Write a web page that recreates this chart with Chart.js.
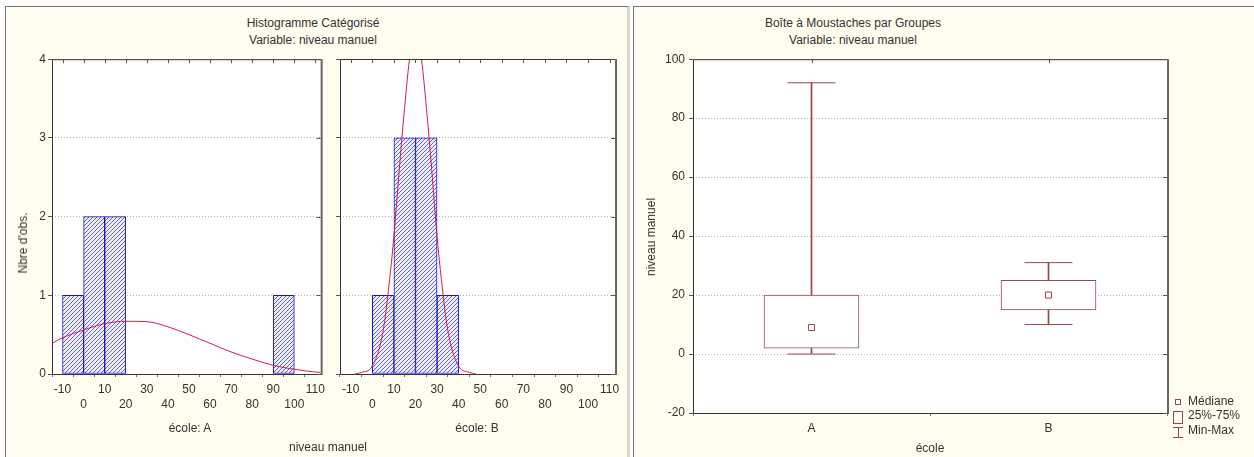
<!DOCTYPE html>
<html>
<head>
<meta charset="utf-8">
<script src="https://cdn.jsdelivr.net/npm/chart.js@4"></script>
<style>
  body { margin: 0; background: #fff; width: 1254px; height: 457px; overflow: hidden; position: relative;
         font-family: Arial, "Liberation Sans", sans-serif; font-size: 12px; color: #333; }
  .panel { position: absolute; background: #fffcf0; border-left: 1px solid #777; border-top: 1px solid #777; }
  #leftPanel { left: 5px; top: 6px; width: 621px; height: 460px; border-right: 3px solid #d8d8d0; }
  #rightPanel { left: 633px; top: 6px; width: 640px; height: 460px; }
  canvas { position: absolute; }
  .txt { position: absolute; white-space: nowrap; transform: translate(-50%, -50%); line-height: 14px; }
  .rot { transform: translate(-50%, -50%) rotate(-90deg); }
</style>
</head>
<body>
<div class="panel" id="leftPanel"></div>
<div class="panel" id="rightPanel"></div>

<canvas id="histA" width="330" height="407" style="left:0;top:50px"></canvas>
<canvas id="histB" width="300" height="407" style="left:330px;top:50px"></canvas>
<canvas id="boxChart" width="622" height="409" style="left:632px;top:48px"></canvas>

<div class="txt" style="left:313px;top:23px">Histogramme Catégorisé</div>
<div class="txt" style="left:313px;top:40px">Variable: niveau manuel</div>
<div class="txt rot" style="left:23px;top:243px">Nbre d'obs.</div>
<div class="txt" style="left:190px;top:428px">école: A</div>
<div class="txt" style="left:477px;top:428px">école: B</div>
<div class="txt" style="left:328px;top:447px">niveau manuel</div>

<div class="txt" style="left:853px;top:23px">Boîte à Moustaches par Groupes</div>
<div class="txt" style="left:853px;top:40px">Variable: niveau manuel</div>
<div class="txt rot" style="left:651px;top:237px">niveau manuel</div>
<div class="txt" style="left:930px;top:448px">école</div>

<script>
// histogram bins (centres) and counts
const binCentersA = [-5, 5, 15, 95];
const countsA = [1, 2, 2, 1];
const binCentersB = [5, 15, 25, 35];
const countsB = [1, 3, 3, 1];

// fitted normal curves
const curveXA = [-15, -10, 0, 10, 20, 30, 40, 50, 60, 70, 80, 90, 100, 110, 112.5];
const curveYA = [0.39, 0.46, 0.56, 0.64, 0.67, 0.665, 0.60, 0.50, 0.39, 0.28, 0.19, 0.11, 0.06, 0.025, 0.02];
const curveXB = [-8, -5, 0, 5, 8, 10, 12.5, 15, 17.5, 20, 22.5, 25, 27.5, 30, 32, 35, 40, 45, 48];
const curveYB = [0, 0.02, 0.1, 0.55, 1.2, 1.75, 2.6, 3.4, 4.05, 4.3, 4.05, 3.4, 2.6, 1.75, 1.2, 0.55, 0.1, 0.02, 0];

const xTicks = [-10, 0, 10, 20, 30, 40, 50, 60, 70, 80, 90, 100, 110];
const countTicks = [0, 1, 2, 3, 4];

// box plot
const groups = ['A', 'B'];
const boxMin = [0, 10];
const boxQ1 = [2, 15];
const boxMedian = [9, 20];
const boxQ3 = [20, 25];
const boxMax = [92, 31];
const levelTicks = [-20, 0, 20, 40, 60, 80, 100];

Chart.defaults.font.family = 'Arial, "Liberation Sans", sans-serif';
Chart.defaults.font.size = 12;
Chart.defaults.color = '#333';
Chart.defaults.animation = false;

const BROWN = '#944848';

// hatch pattern for the bars
function hatch() {
  const c = document.createElement('canvas');
  c.width = 4; c.height = 4;
  const g = c.getContext('2d');
  g.fillStyle = '#eeeeff';
  g.fillRect(0, 0, 4, 4);
  g.strokeStyle = '#3c3ce0';
  g.lineWidth = 0.8;
  g.beginPath();
  g.moveTo(0, 4); g.lineTo(4, 0);
  g.moveTo(-1, 1); g.lineTo(1, -1);
  g.moveTo(3, 5); g.lineTo(5, 3);
  g.stroke();
  return g.createPattern(c, 'repeat');
}

// white plot background + frame + inner ticks on top/right
const frame = {
  id: 'frame',
  beforeDraw(chart) {
    const a = chart.chartArea, ctx = chart.ctx;
    ctx.save();
    ctx.fillStyle = '#fff';
    ctx.fillRect(a.left, a.top, a.right - a.left, a.bottom - a.top);
    ctx.restore();
  },
  afterDraw(chart) {
    const a = chart.chartArea, ctx = chart.ctx;
    ctx.save();
    ctx.strokeStyle = '#333';
    ctx.lineWidth = 1;
    ctx.beginPath();
    ctx.moveTo(a.right + 0.5, a.top + 0.5);
    ctx.lineTo(a.left + 0.5, a.top + 0.5);
    ctx.lineTo(a.left + 0.5, a.bottom + 0.5);
    ctx.lineTo(a.right + 0.5, a.bottom + 0.5);
    ctx.stroke();
    ctx.strokeStyle = '#666';
    ctx.lineWidth = 2;
    ctx.beginPath();
    ctx.moveTo(a.right + 1, a.top);
    ctx.lineTo(a.right + 1, a.bottom + 1);
    ctx.stroke();
    const x = chart.scales.x;
    ctx.strokeStyle = '#555';
    ctx.lineWidth = 1;
    ctx.beginPath();
    x.ticks.forEach((t, i) => {
      const px = Math.round(x.getPixelForTick(i)) + 0.5;
      ctx.moveTo(px, a.top);
      ctx.lineTo(px, a.top + 4);
    });
    const y = chart.scales.y;
    y.ticks.forEach((t, i) => {
      const py = Math.round(y.getPixelForTick(i)) + 0.5;
      ctx.moveTo(a.right, py);
      ctx.lineTo(a.right - 4, py);
    });
    ctx.stroke();
    ctx.restore();
  }
};

function histogram(id, centers, counts, cx, cy, yWidth, showYLabels, padRight) {
  return new Chart(document.getElementById(id), {
    type: 'bar',
    data: {
      datasets: [
        {
          type: 'line',
          data: cx.map((v, i) => ({ x: v, y: cy[i] })),
          borderColor: '#d02040',
          borderWidth: 1,
          pointRadius: 0,
          cubicInterpolationMode: 'monotone',
          order: 1
        },
        {
          data: centers.map((v, i) => ({ x: v, y: counts[i] })),
          backgroundColor: hatch(),
          borderColor: '#1414c8',
          borderWidth: 1,
          borderSkipped: false,
          barPercentage: 1,
          categoryPercentage: 1,
          order: 2
        }
      ]
    },
    options: {
      responsive: false,
      layout: { autoPadding: false, padding: { top: 9, right: padRight, left: 0, bottom: 0 } },
      plugins: { legend: { display: false }, tooltip: { enabled: false } },
      events: [],
      scales: {
        x: {
          type: 'linear',
          min: -15,
          max: 112.5,
          offset: false,
          afterBuildTicks: s => { s.ticks = xTicks.map(v => ({ value: v })); },
          afterFit: s => { s.height = 83; },
          border: { display: false },
          grid: { drawOnChartArea: false, tickLength: 3, color: '#777' },
          ticks: {
            maxRotation: 0,
            autoSkip: false,
            padding: 5,
            color: '#333',
            font: { size: 12, lineHeight: 1.25 },
            callback: (v, i) => (i % 2 === 0 ? [String(v), ''] : ['', String(v)])
          }
        },
        y: {
          min: 0,
          max: 4,
          afterBuildTicks: s => { s.ticks = countTicks.map(v => ({ value: v })); },
          afterFit: s => { s.width = yWidth; },
          border: { display: false, dash: [1, 2] },
          grid: { color: '#b4b4b4', tickLength: 4, tickColor: '#555' },
          ticks: { display: showYLabels, padding: 2, color: '#333' }
        }
      }
    },
    plugins: [frame]
  });
}

histogram('histA', binCentersA, countsA, curveXA, curveYA, 52, true, 3);
histogram('histB', binCentersB, countsB, curveXB, curveYB, 10, false, 15);

const boxLegend = {
  id: 'boxLegend',
  afterDraw(chart) {
    const ctx = chart.ctx;
    const ox = 1178 - 632, oy = -48;
    ctx.save();
    ctx.strokeStyle = BROWN;
    ctx.lineWidth = 1;
    ctx.fillStyle = '#fff';
    ctx.fillRect(ox - 2.5, oy + 399.5, 5, 5);
    ctx.strokeRect(ox - 2.5, oy + 399.5, 5, 5);
    ctx.strokeRect(ox - 4.5, oy + 411.5, 9, 12);
    ctx.beginPath();
    ctx.moveTo(ox - 5, oy + 427.5); ctx.lineTo(ox + 5, oy + 427.5);
    ctx.moveTo(ox + 0.5, oy + 427.5); ctx.lineTo(ox + 0.5, oy + 437.5);
    ctx.moveTo(ox - 5, oy + 437.5); ctx.lineTo(ox + 5, oy + 437.5);
    ctx.stroke();
    ctx.fillStyle = '#333';
    ctx.font = '12px Arial, "Liberation Sans", sans-serif';
    ctx.textBaseline = 'middle';
    ctx.fillText('Médiane', ox + 10, oy + 402);
    ctx.fillText('25%-75%', ox + 10, oy + 416);
    ctx.fillText('Min-Max', ox + 10, oy + 431);
    ctx.restore();
  }
};

new Chart(document.getElementById('boxChart'), {
  type: 'bar',
  data: {
    labels: groups,
    datasets: [
      {
        type: 'line',
        data: groups.map((g, i) => ({ x: g, y: boxMedian[i] })),
        showLine: false,
        pointStyle: 'rect',
        pointRadius: 4.3,
        pointBackgroundColor: '#fff',
        pointBorderColor: BROWN,
        pointBorderWidth: 1,
        order: 1
      },
      {
        type: 'line',
        data: groups.flatMap((g, i) => [{ x: g, y: boxMin[i] }, { x: g, y: boxMax[i] }]),
        showLine: false,
        pointStyle: 'line',
        pointRadius: 24,
        pointBorderColor: BROWN,
        pointBorderWidth: 1,
        order: 2
      },
      {
        data: groups.map((g, i) => [boxQ1[i], boxQ3[i]]),
        backgroundColor: '#fff',
        borderColor: BROWN,
        borderWidth: 1,
        borderSkipped: false,
        barThickness: 95,
        grouped: false,
        order: 3
      },
      {
        data: groups.map((g, i) => [boxMin[i], boxMax[i]]),
        backgroundColor: BROWN,
        borderWidth: 0,
        barThickness: 1,
        grouped: false,
        order: 4
      }
    ]
  },
  options: {
    responsive: false,
    layout: { autoPadding: false, padding: { top: 7, right: 87, left: 0, bottom: 0 } },
    plugins: { legend: { display: false }, tooltip: { enabled: false } },
    events: [],
    scales: {
      x: {
        afterFit: s => { s.height = 44; },
        border: { display: false },
        grid: { drawOnChartArea: false, tickLength: 3, color: '#777' },
        ticks: { padding: 5, color: '#333' }
      },
      y: {
        min: -20,
        max: 100,
        afterBuildTicks: s => { s.ticks = levelTicks.map(v => ({ value: v })); },
        afterFit: s => { s.width = 61; },
        border: { display: false, dash: [1, 2] },
        grid: { color: '#b4b4b4', tickLength: 4, tickColor: '#555' },
        ticks: { padding: 4, color: '#333' }
      }
    }
  },
  plugins: [frame, boxLegend]
});
</script>
</body>
</html>
